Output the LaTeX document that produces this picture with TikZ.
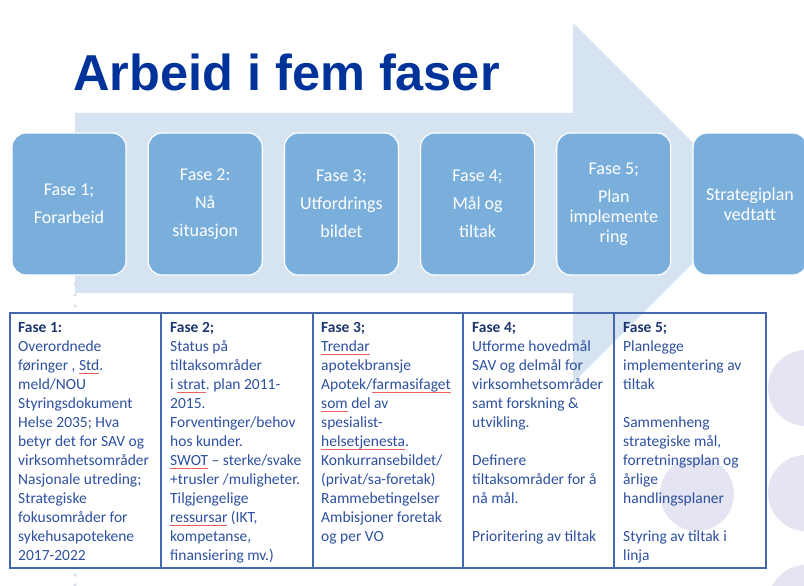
\documentclass[tikz,border=0pt]{standalone}
\usepackage{fontspec}
\setmainfont{Carlito}
\newfontfamily\titlefont{Liberation Sans}
\usetikzlibrary{positioning}
\frenchspacing
\definecolor{pilblaa}{RGB}{214,227,241}
\definecolor{boksblaa}{RGB}{123,175,219}
\definecolor{tittelblaa}{RGB}{0,51,153}
\definecolor{tekstblaa}{RGB}{45,80,160}
\definecolor{fetblaa}{RGB}{30,55,110}
\definecolor{linjeblaa}{RGB}{68,104,176}
\definecolor{sirkel}{RGB}{228,228,242}
\definecolor{prikk}{RGB}{218,224,236}
\definecolor{stavrod}{RGB}{232,96,96}
% red spell-check line under a word
\newcommand\stav[1]{\setbox0\hbox{#1}\rlap{\color{stavrod}\rule[-2.6pt]{\wd0}{0.7pt}}\box0\relax}

\begin{document}
\begin{tikzpicture}[x=1pt, y=-1pt,
	node distance=21pt,
	faseboks/.style = {shape=rectangle, rounded corners=14pt,
	draw=white, line width=1.2pt, fill=boksblaa, text=white,
	minimum width=114pt, minimum height=142pt, align=center,
	font=\fontsize{18}{20}\selectfont},
	celle/.style = {anchor=north west, inner sep=0pt, align=left,
	text=tekstblaa, font=\fontsize{15.5}{19}\selectfont},
	ramme/.style = {draw=linjeblaa, line width=1.4pt}
]
\useasboundingbox (0,0) rectangle (804,586);

% background
\fill[sirkel] (697,494) circle (37pt);
\foreach \y in {388,493,603}
	\fill[sirkel] (806,\y) circle (38pt);
\fill[pilblaa] (75,113) -- (573,113) -- (573,23) -- (753,203)
	-- (573,383) -- (573,293) -- (75,293) -- cycle;
\foreach \y in {284,295,306,575,585}
	\fill[prikk] (75,\y) circle (1.8pt);

\node[anchor=base west, inner sep=0pt, text=tittelblaa,
	font=\titlefont\bfseries\fontsize{50.5}{60}\selectfont] (tittel) at (73,91) {Arbeid i fem faser};

% phase boxes
\node[faseboks] (fase1) at (69,204) {Fase 1;\\[8pt]Forarbeid};
\node[faseboks, right=of fase1] (fase2) {Fase 2:\\[8pt]Nå\\[8pt]situasjon};
\node[faseboks, right=of fase2] (fase3) {Fase 3;\\[8pt]Utfordrings\\[8pt]bildet};
\node[faseboks, right=of fase3] (fase4) {Fase 4;\\[8pt]Mål og\\[8pt]tiltak};
\node[faseboks, right=of fase4] (fase5) {Fase 5;\\[8pt]Plan\\implemente\\ring};
\node[faseboks, right=of fase5] (vedtatt) {Strategiplan\\vedtatt};

% table
\draw[ramme] (10,313) rectangle (766,568);
\foreach \x in {161,313,463,614}
	\draw[ramme] (\x,313) -- (\x,568);

\node[celle] (celle1) at (18,322.5) {{\color{fetblaa}\bfseries Fase 1:}\\
	Overordnede\\
	føringer ,  \stav{Std}.\\
	meld/NOU\\
	Styringsdokument\\
	Helse 2035; Hva\\
	betyr det for SAV og\\
	virksomhetsområder\\
	Nasjonale utreding;\\
	Strategiske\\
	fokusområder for\\
	sykehusapotekene\\
	2017-2022};
\node[celle] (celle2) at (170,322.5) {{\color{fetblaa}\bfseries Fase 2;}\\
	Status på\\
	tiltaksområder\\
	i \stav{strat}. plan 2011-\\
	2015.\\
	Forventinger/behov\\
	hos kunder.\\
	\stav{SWOT} – sterke/svake\\
	+trusler /muligheter.\\
	Tilgjengelige\\
	\stav{ressursar} (IKT,\\
	kompetanse,\\
	finansiering mv.)};
\node[celle] (celle3) at (321,322.5) {{\color{fetblaa}\bfseries Fase 3;}\\
	\stav{Trendar}\\
	apotekbransje\\
	Apotek/\stav{farmasifaget}\\
	\stav{som} del av\\
	spesialist-\\
	\stav{helsetjenesta}.\\
	Konkurransebildet/\\
	(privat/sa-foretak)\\
	Rammebetingelser\\
	Ambisjoner foretak\\
	og per VO};
\node[celle] (celle4) at (472,322.5) {{\color{fetblaa}\bfseries Fase 4;}\\
	Utforme hovedmål\\
	SAV og delmål for\\
	virksomhetsområder\\
	samt forskning \&\\
	utvikling.\\[19pt]
	Definere\\
	tiltaksområder for å\\
	nå mål.\\[19pt]
	Prioritering av tiltak};
\node[celle] (celle5) at (623,322.5) {{\color{fetblaa}\bfseries Fase 5;}\\
	Planlegge\\
	implementering av\\
	tiltak\\[19pt]
	Sammenheng\\
	strategiske mål,\\
	forretningsplan  og\\
	årlige\\
	handlingsplaner\\[19pt]
	Styring av tiltak i\\
	linja};
\end{tikzpicture}
\end{document}
